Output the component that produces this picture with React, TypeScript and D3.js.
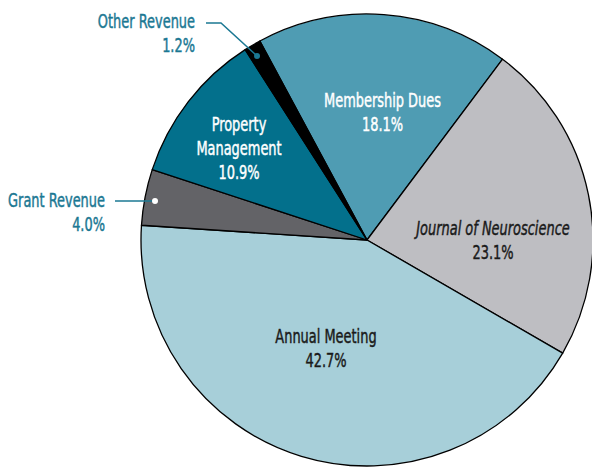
import { useEffect, useRef } from 'react';
import * as d3 from 'd3';

const categories = ['Membership Dues', 'Journal of Neuroscience', 'Annual Meeting', 'Grant Revenue', 'Property Management', 'Other Revenue'];
const shares = [18.1, 23.1, 42.7, 4.0, 10.9, 1.2];
const sliceColors = ['#4f9cb3', '#bebec2', '#a7cfd9', '#636367', '#03708c', '#000000'];

const App = () => {
    const svgRef = useRef<SVGSVGElement>(null);

    useEffect(() => {
        const svg = d3.select(svgRef.current);
        svg.selectAll('*').remove();

        const cx = 367;
        const cy = 240;
        const radius = 226;
        const font = "'DejaVu Sans Condensed', 'DejaVu Sans', sans-serif";
        const teal = '#1b7893';
        const squeeze = 0.72; // narrow the face to mimic a condensed font
        const lineGap = 24;

        const data = categories.map((c, i) => ({ name: c, value: shares[i], color: sliceColors[i] }));
        const start = (-28.3 * Math.PI) / 180;
        const pie = d3
            .pie<any>()
            .sort(null)
            .value((d) => d.value)
            .startAngle(start)
            .endAngle(start + 2 * Math.PI);
        const arc = d3.arc<any>().innerRadius(0).outerRadius(radius);

        const g = svg.append('g').attr('transform', `translate(${cx},${cy})`);
        const arcs = pie(data);

        g.selectAll('path')
            .data(arcs)
            .enter()
            .append('path')
            .attr('d', arc)
            .attr('fill', (d) => d.data.color)
            .attr('stroke', '#000')
            .attr('stroke-width', 1.3)
            .attr('stroke-linejoin', 'round');

        const addLabel = (parent, x, y, lines, fill, anchor, italic) => {
            const t = parent
                .append('text')
                .attr('transform', `translate(${x},${y}) scale(${squeeze},1)`)
                .attr('text-anchor', anchor)
                .attr('font-family', font)
                .attr('font-size', 20)
                .attr('fill', fill)
                .attr('stroke', fill)
                .attr('stroke-width', 0.45);
            lines.forEach((s, k) => {
                t.append('tspan')
                    .attr('x', 0)
                    .attr('y', k * lineGap)
                    .attr('font-style', italic && k === 0 ? 'italic' : 'normal')
                    .text(s);
            });
        };

        // labels inside slices
        addLabel(g, 15.5, -133, ['Membership Dues', '18.1%'], '#fff', 'middle', false);
        addLabel(g, -128, -109, ['Property', 'Management', '10.9%'], '#fff', 'middle', false);
        addLabel(g, 126, -5, ['Journal of Neuroscience', '23.1%'], '#1a1a1a', 'middle', true);
        addLabel(g, -41, 103, ['Annual Meeting', '42.7%'], '#1a1a1a', 'middle', false);

        // callouts for the small slices
        const callouts = [
            { textX: 195, textY: 28, lines: ['Other Revenue', '1.2%'], path: [[206, 23], [221, 23], [257, 56]], dot: teal },
            { textX: 105, textY: 207, lines: ['Grant Revenue', '4.0%'], path: [[115, 201], [155, 201]], dot: '#fff' },
        ];
        callouts.forEach((c) => {
            addLabel(svg, c.textX, c.textY, c.lines, teal, 'end', false);
            svg.append('path')
                .attr('d', d3.line()(c.path as [number, number][]))
                .attr('fill', 'none')
                .attr('stroke', teal)
                .attr('stroke-width', 1.5);
            const end = c.path[c.path.length - 1];
            svg.append('circle').attr('cx', end[0]).attr('cy', end[1]).attr('r', 3).attr('fill', c.dot);
        });
    }, []);

    return (
        <svg
            ref={svgRef}
            width={592}
            height={467}
            style={{ position: 'absolute', left: 0, top: 0, background: '#fff' }}
        ></svg>
    );
};

export default App;
